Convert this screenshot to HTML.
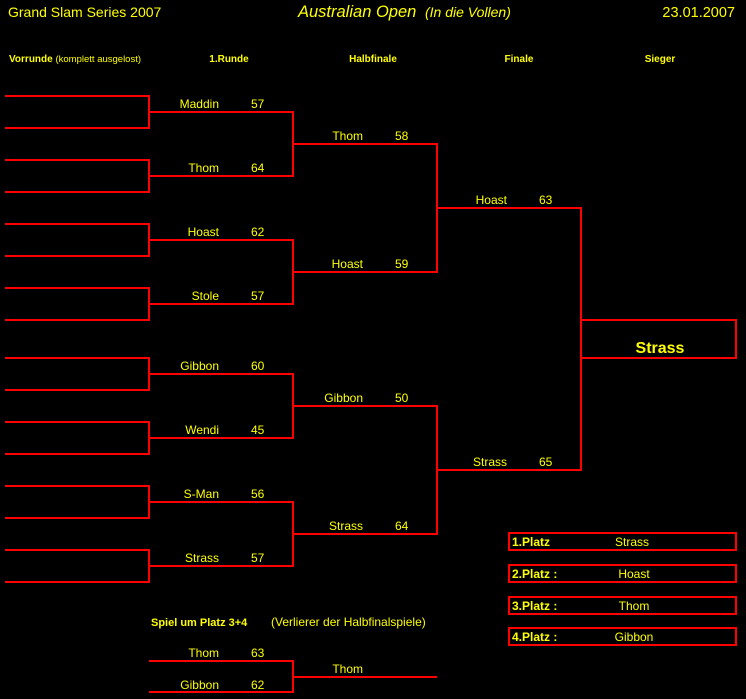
<!DOCTYPE html>
<html><head><meta charset="utf-8"><style>
html,body{margin:0;padding:0;background:#000;}
svg{display:block;}
text{font-family:"Liberation Sans",sans-serif;fill:#ffff00;}
.n{font-size:12px;text-anchor:end;}
.s{font-size:12px;}
.h{font-size:10px;font-weight:bold;text-anchor:middle;}
.p{font-size:12px;font-weight:bold;}
.pn{font-size:12px;text-anchor:middle;}
</style></head><body>
<svg width="746" height="699" viewBox="0 0 746 699">
<rect width="746" height="699" fill="#000"/>
<text x="8" y="17" style="font-size:14px">Grand Slam Series 2007</text>
<text x="298" y="17" style="font-size:16.5px;font-style:italic">Australian Open</text>
<text x="425" y="17" style="font-size:14px;font-style:italic">(In die Vollen)</text>
<text x="735" y="17" style="font-size:14.5px;text-anchor:end">23.01.2007</text>
<text x="9" y="62" style="font-size:10px;font-weight:bold">Vorrunde <tspan style="font-weight:normal;font-size:9.5px">(komplett ausgelost)</tspan></text>
<text x="229" y="62" class="h">1.Runde</text>
<text x="373" y="62" class="h">Halbfinale</text>
<text x="519" y="62" class="h">Finale</text>
<text x="660" y="62" class="h">Sieger</text>
<g stroke="#ff0000" stroke-width="2" fill="none">
<path d="M5 96H149V128H5"/><path d="M5 160H149V192H5"/>
<path d="M5 224H149V256H5"/><path d="M5 288H149V320H5"/>
<path d="M5 358H149V390H5"/><path d="M5 422H149V454H5"/>
<path d="M5 486H149V518H5"/><path d="M5 550H149V582H5"/>
<path d="M149 112H293V176H149"/><path d="M149 240H293V304H149"/>
<path d="M149 374H293V438H149"/><path d="M149 502H293V566H149"/>
<path d="M293 144H437V272H293"/><path d="M293 406H437V534H293"/>
<path d="M437 208H581V470H437"/>
<path d="M581 320H736V358H581"/>
<path d="M149 661H293V692H149"/><path d="M293 677H437"/>
<rect x="509" y="533" width="227" height="17"/>
<rect x="509" y="565" width="227" height="17"/>
<rect x="509" y="597" width="227" height="17"/>
<rect x="509" y="628" width="227" height="17"/>
</g>
<text x="219" y="108" class="n">Maddin</text><text x="251" y="108" class="s">57</text>
<text x="219" y="172" class="n">Thom</text><text x="251" y="172" class="s">64</text>
<text x="219" y="236" class="n">Hoast</text><text x="251" y="236" class="s">62</text>
<text x="219" y="300" class="n">Stole</text><text x="251" y="300" class="s">57</text>
<text x="219" y="370" class="n">Gibbon</text><text x="251" y="370" class="s">60</text>
<text x="219" y="434" class="n">Wendi</text><text x="251" y="434" class="s">45</text>
<text x="219" y="498" class="n">S-Man</text><text x="251" y="498" class="s">56</text>
<text x="219" y="562" class="n">Strass</text><text x="251" y="562" class="s">57</text>
<text x="363" y="140" class="n">Thom</text><text x="395" y="140" class="s">58</text>
<text x="363" y="268" class="n">Hoast</text><text x="395" y="268" class="s">59</text>
<text x="363" y="402" class="n">Gibbon</text><text x="395" y="402" class="s">50</text>
<text x="363" y="530" class="n">Strass</text><text x="395" y="530" class="s">64</text>
<text x="507" y="204" class="n">Hoast</text><text x="539" y="204" class="s">63</text>
<text x="507" y="466" class="n">Strass</text><text x="539" y="466" class="s">65</text>
<text x="660" y="353" style="font-size:16px;font-weight:bold;text-anchor:middle">Strass</text>
<text x="512" y="546" class="p">1.Platz</text><text x="632" y="546" class="pn">Strass</text>
<text x="512" y="578" class="p">2.Platz :</text><text x="634" y="578" class="pn">Hoast</text>
<text x="512" y="610" class="p">3.Platz :</text><text x="634" y="610" class="pn">Thom</text>
<text x="512" y="641" class="p">4.Platz :</text><text x="634" y="641" class="pn">Gibbon</text>
<text x="151" y="626" style="font-size:11px;font-weight:bold">Spiel um Platz 3+4</text>
<text x="271" y="626" style="font-size:12px">(Verlierer der Halbfinalspiele)</text>
<text x="219" y="657" class="n">Thom</text><text x="251" y="657" class="s">63</text>
<text x="219" y="689" class="n">Gibbon</text><text x="251" y="689" class="s">62</text>
<text x="363" y="673" class="n">Thom</text>
</svg>
</body></html>
